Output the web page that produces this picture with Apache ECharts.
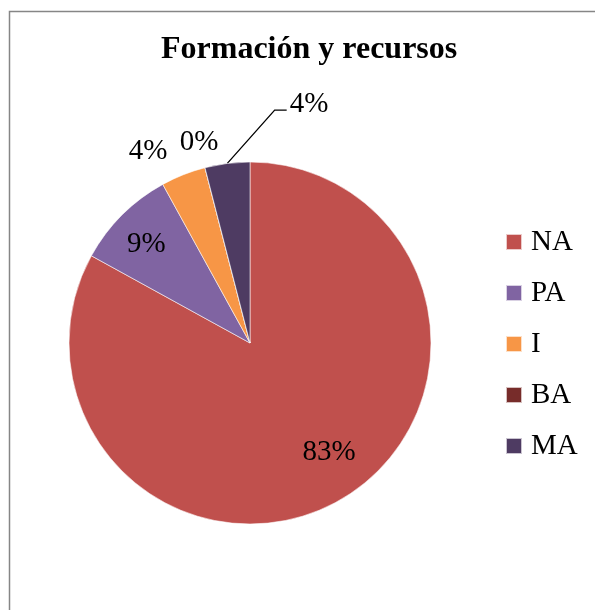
<!DOCTYPE html>
<html>
<head>
<meta charset="utf-8">
<script src="https://cdn.jsdelivr.net/npm/echarts@6/dist/echarts.min.js"></script>
<style>
    html, body { margin: 0; padding: 0; background: #fff; }
    #chart { width: 595px; height: 610px; }
</style>
</head>
<body>
<div id="chart"></div>
<script>
var categories = ['NA', 'PA', 'I', 'BA', 'MA'];
var values = [83, 9, 4, 0, 4];
var colors = ['#C0504D', '#8064A2', '#F79646', '#772C2A', '#4E3B62'];

// label placement: angle shift (deg) from the slice middle, distance as share of radius
var labelShift = [-5.3, -1.4, -6.4, 0.2, 21.1];
var labelDist = [0.744, 0.79, 1.2, 1.145, 1.357];

var CX = 250, CY = 343, R = 181;
var FONT = "'Liberation Serif', 'Times New Roman', serif";

var total = values.reduce(function(a, b) { return a + b; }, 0);

function midAngle(i) {
    var before = 0;
    for (var j = 0; j < i; j++) before += values[j];
    return (before + values[i] / 2) / total * 360;
}

var data = categories.map(function(name, i) {
    var item = { name: name, value: values[i], itemStyle: { color: colors[i] } };
    if (i === 4) {
        item.labelLine = { show: true, lineStyle: { color: '#000', width: 1.3 } };
    }
    return item;
});

var myChart = echarts.init(document.getElementById('chart'));

var option = {
    animation: false,
    backgroundColor: '#fff',
    title: {
        text: 'Formación y recursos',
        left: 161,
        top: 34,
        padding: 0,
        textStyle: {
            fontFamily: FONT,
            fontSize: 32,
            fontWeight: 'bold',
            color: '#000',
            lineHeight: 32
        }
    },
    legend: {
        orient: 'vertical',
        left: 505,
        top: 227,
        padding: 0,
        itemWidth: 16,
        itemHeight: 16,
        itemGap: 21,
        icon: 'rect',
        selectedMode: false,
        textStyle: {
            fontFamily: FONT,
            fontSize: 29,
            color: '#000',
            lineHeight: 30,
            padding: [0, 0, 0, 4]
        },
        data: categories
    },
    graphic: [{
        type: 'rect',
        shape: { x: 9.5, y: 11.5, width: 620, height: 640 },
        style: { fill: null, stroke: '#868686', lineWidth: 1.5 },
        silent: true
    }],
    series: [{
        type: 'pie',
        center: [CX, CY],
        radius: [0, R],
        startAngle: 90,
        clockwise: true,
        avoidLabelOverlap: false,
        emphasis: { disabled: true },
        itemStyle: { borderColor: 'rgba(255,255,255,0.7)', borderWidth: 0.8 },
        label: {
            show: true,
            position: 'outside',
            fontFamily: FONT,
            fontSize: 29,
            color: '#000',
            formatter: function(p) { return Math.round(p.percent) + '%'; }
        },
        labelLine: { show: false },
        labelLayout: function(p) {
            var i = p.dataIndex;
            var a = (midAngle(i) + labelShift[i]) * Math.PI / 180;
            var d = labelDist[i] * R;
            var x = CX + d * Math.sin(a);
            var y = CY - d * Math.cos(a);
            var res = { x: x, y: y, align: 'center', verticalAlign: 'middle' };
            if (i === 4) {
                var m = midAngle(i) * Math.PI / 180;
                var w = p.labelRect.width;
                var ex = x - w / 2 - 3, ey = y + 5.5;
                res.labelLinePoints = [
                    [CX + R * Math.sin(m), CY - R * Math.cos(m)],
                    [ex - 12, ey],
                    [ex, ey]
                ];
            }
            return res;
        },
        data: data
    }]
};

myChart.setOption(option);
</script>
</body>
</html>
